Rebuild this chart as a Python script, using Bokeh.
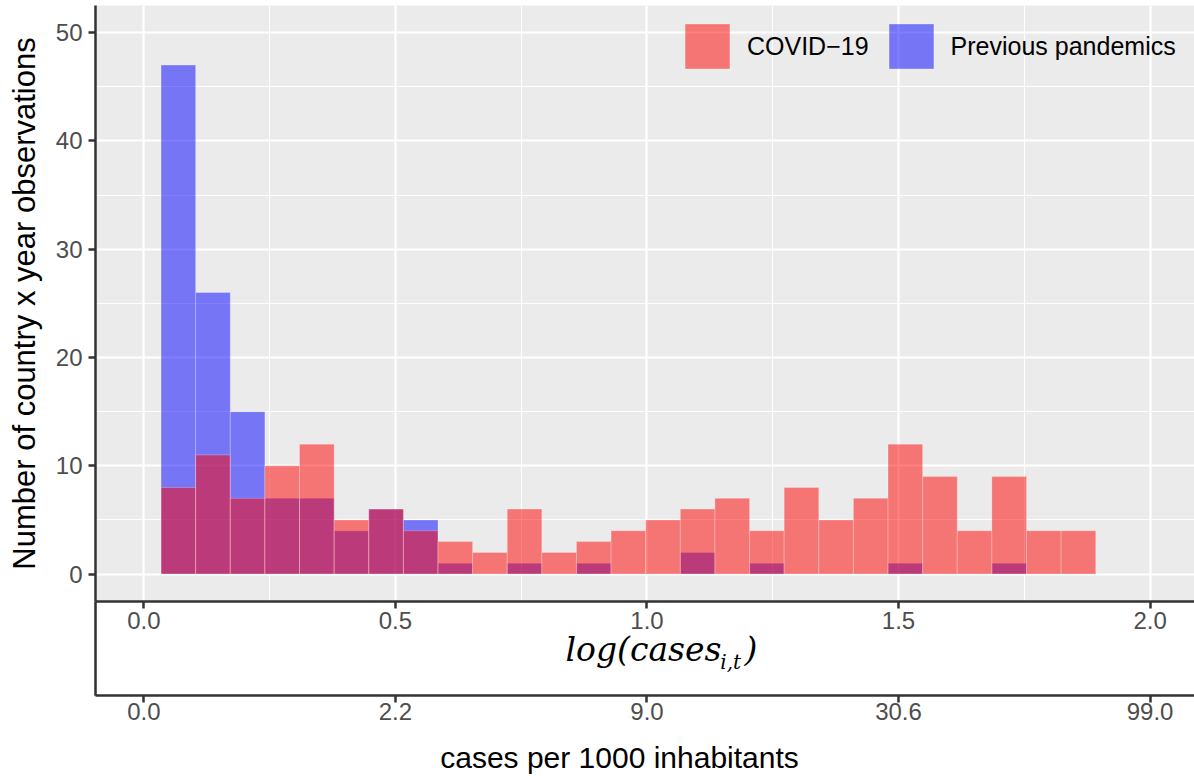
from bokeh.plotting import figure
from bokeh.models import LinearAxis, FixedTicker, Legend, LegendItem, Label
from bokeh.embed import file_html
from bokeh.resources import INLINE

# histogram bins on the log(cases) scale
bin_edges = [0.0341, 0.1029, 0.1717, 0.2405, 0.3093, 0.3782, 0.4470, 0.5158,
             0.5846, 0.6534, 0.7222, 0.7910, 0.8598, 0.9286, 0.9974, 1.0663,
             1.1351, 1.2039, 1.2727, 1.3415, 1.4103, 1.4791, 1.5479, 1.6167,
             1.6855, 1.7544, 1.8232, 1.8920]
covid_counts = [8, 11, 7, 10, 12, 5, 6, 4, 3, 2, 6, 2, 3, 4, 5, 6, 7, 4, 8,
                5, 7, 12, 9, 4, 9, 4, 4]
previous_counts = [47, 26, 15, 7, 7, 4, 6, 5, 1, 0, 1, 0, 1, 0, 0, 2, 0, 1,
                   0, 0, 0, 1, 0, 0, 1, 0, 0]
series_names = ["COVID\u221219", "Previous pandemics"]

x_ticks = [0.0, 0.5, 1.0, 1.5, 2.0]
x_minor = [0.25, 0.75, 1.25, 1.75]
x_labels_log = ["0.0", "0.5", "1.0", "1.5", "2.0"]
x_labels_cases = ["0.0", "2.2", "9.0", "30.6", "99.0"]
y_ticks = [0, 10, 20, 30, 40, 50]
y_minor = [5, 15, 25, 35, 45]

dark = "#333333"
tick_grey = "#4D4D4D"
sans = "Liberation Sans"
serif = "DejaVu Serif"

p = figure(width=1194, height=776, x_range=(-0.0962, 2.0883), y_range=(-2.53, 52.5),
           output_backend="svg", toolbar_location=None,
           min_border_left=93, min_border_right=0, min_border_top=5,
           min_border_bottom=175)
p.background_fill_color = "#EBEBEB"
p.border_fill_color = "white"
p.outline_line_color = None

# grid
p.xgrid.ticker = FixedTicker(ticks=x_ticks, minor_ticks=x_minor)
p.ygrid.ticker = FixedTicker(ticks=y_ticks, minor_ticks=y_minor)
for g in (p.xgrid[0], p.ygrid[0]):
    g.grid_line_color = "white"
    g.grid_line_width = 2.2
    g.minor_grid_line_color = "white"
    g.minor_grid_line_width = 1.1


def style_axis(ax):
    ax.axis_line_color = dark
    ax.axis_line_width = 2.5
    ax.major_tick_line_color = dark
    ax.major_tick_line_width = 2.5
    ax.major_tick_in = 0
    ax.major_tick_out = 7
    ax.minor_tick_line_color = None
    ax.major_label_text_font = sans
    ax.major_label_text_font_size = "24px"
    ax.major_label_text_color = tick_grey
    ax.axis_label_text_color = "black"
    ax.axis_label_text_font_style = "normal"


# first x axis: log(cases_it), the gap in the title is filled by the subscript
ax1 = p.xaxis[0]
style_axis(ax1)
ax1.ticker = FixedTicker(ticks=x_ticks)
ax1.major_label_overrides = dict(zip(x_ticks, x_labels_log))
ax1.major_label_standoff = 3
ax1.axis_label = "\u2003log(cases\u2002\u2009)"
ax1.axis_label_text_font = serif
ax1.axis_label_text_font_style = "italic"
ax1.axis_label_text_font_size = "33px"
ax1.axis_label_standoff = -2

# subscript, also works as the gap between the two x axes
p.add_layout(Label(x=1.1456, y=-8.08, text="i,t", text_font=serif,
                   text_font_style="italic", text_font_size="20px",
                   text_baseline="alphabetic", text_color="black"), "below")

# second x axis: cases per 1000 inhabitants
ax2 = LinearAxis(ticker=FixedTicker(ticks=x_ticks),
                 major_label_overrides=dict(zip(x_ticks, x_labels_cases)))
style_axis(ax2)
ax2.major_label_standoff = 0
ax2.axis_label = "cases per 1000 inhabitants\u2003\u2002\u2009"
ax2.axis_label_text_font = sans
ax2.axis_label_text_font_size = "30px"
ax2.axis_label_standoff = 18
p.add_layout(ax2, "below")

# y axis
ay = p.yaxis[0]
style_axis(ay)
ay.ticker = FixedTicker(ticks=y_ticks)
ay.major_label_standoff = 6
ay.axis_label = "Number of country x year observations"
ay.axis_label_text_font = sans
ay.axis_label_text_font_size = "31px"
ay.axis_label_standoff = 11

# left border continuing down to the second axis
p.add_layout(Label(x=-0.0962, y=-2.53, text=" ", text_font_size="2px",
                   text_align="center", text_baseline="top",
                   background_fill_color=dark, background_fill_alpha=1,
                   padding=dict(left=1, right=1, top=0, bottom=92)), "left")

left = bin_edges[:-1]
right = bin_edges[1:]
prev_r = p.quad(left=left, right=right, bottom=0, top=previous_counts,
                fill_color="blue", fill_alpha=0.5,
                line_color="white", line_alpha=0.25, line_width=1)
covid_r = p.quad(left=left, right=right, bottom=0, top=covid_counts,
                 fill_color="red", fill_alpha=0.5,
                 line_color="white", line_alpha=0.25, line_width=1)

legend = Legend(items=[LegendItem(label=series_names[0], renderers=[covid_r]),
                       LegendItem(label=series_names[1], renderers=[prev_r])],
                orientation="horizontal", location=(584, 527),
                background_fill_alpha=0, border_line_color=None,
                glyph_width=56, glyph_height=56, label_standoff=12,
                spacing=14, padding=0, margin=0,
                label_text_font=sans, label_text_font_size="25px",
                label_text_color="black")
p.add_layout(legend)

open("out.html", "w").write(file_html(p, INLINE))
